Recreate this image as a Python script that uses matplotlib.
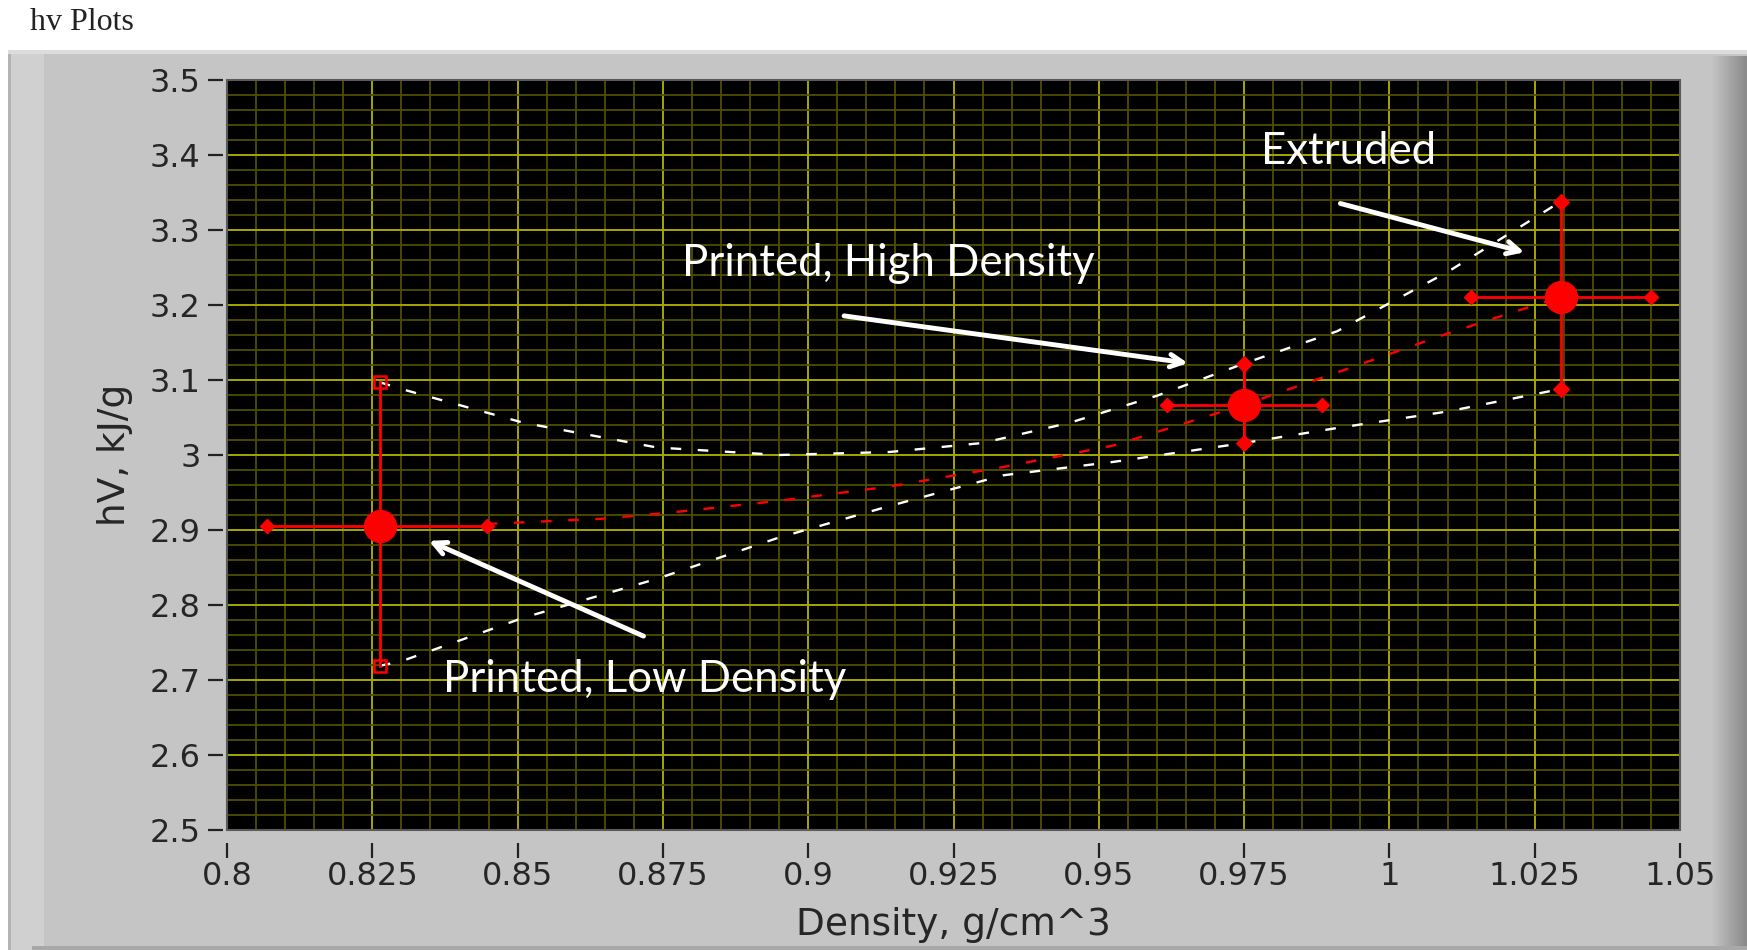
import matplotlib.pyplot as plt
from matplotlib.patches import Rectangle
from matplotlib.ticker import MultipleLocator
import numpy as np

# Measured points: density (g/cm^3) and hV (kJ/g) with their spread
labels = ['Printed, Low Density', 'Printed, High Density', 'Extruded']
dens = [0.8263, 0.9750, 1.0295]
dens_lo = [0.8069, 0.9617, 1.0141]
dens_hi = [0.8447, 0.9884, 1.0450]
hv = [2.906, 3.067, 3.211]
hv_lo = [2.719, 3.016, 3.088]
hv_hi = [3.097, 3.122, 3.338]

# Fitted trend through the centres and the two bounding curves
fit_x = [0.8447, 0.8645, 0.8760, 0.8950, 0.9140, 0.9336, 0.9527, 0.9750, 0.9910, 1.0100, 1.0295]
fit_y = [2.908, 2.915, 2.923, 2.939, 2.958, 2.984, 3.013, 3.067, 3.110, 3.162, 3.211]

up_x = [0.8263, 0.8300, 0.8510, 0.8740, 0.8950, 0.9140, 0.9300, 0.9450, 0.9600, 0.9750, 0.9910, 1.0100, 1.0295]
up_y = [3.097, 3.088, 3.043, 3.010, 3.000, 3.004, 3.016, 3.043, 3.079, 3.122, 3.165, 3.244, 3.338]

low_x = [0.8263, 0.8300, 0.8510, 0.8740, 0.8950, 0.9140, 0.9336, 0.9527, 0.9750, 0.9910, 1.0100, 1.0295]
low_y = [2.719, 2.725, 2.783, 2.835, 2.890, 2.932, 2.973, 2.991, 3.016, 3.036, 3.058, 3.088]

W, H = 1747, 950
fig = plt.figure(figsize=(W / 100, H / 100), dpi=100, facecolor='white')

# panel frame behind the graph, drawn in pixel units
bg = fig.add_axes([0, 0, 1, 1], zorder=-5)
bg.set_xlim(0, W)
bg.set_ylim(H, 0)
bg.axis('off')
bg.add_patch(Rectangle((8, 50), W - 8, H - 50, color='#c5c5c5', lw=0))
bg.add_patch(Rectangle((8, 50), 3, H - 50, color='#b4b4b4', lw=0))
bg.add_patch(Rectangle((11, 50), 33, H - 50, color='#d0d0d0', lw=0))
bg.add_patch(Rectangle((8, 50), W - 8, 4, color='#dcdcdc', lw=0))
shade = np.linspace(0.78, 0.52, 40)
for i, s in enumerate(shade):
    bg.add_patch(Rectangle((1710 + i, 56), 1, H - 56, color=(s, s, s), lw=0))
bg.add_patch(Rectangle((32, 946), W - 32, 4, color='#a8a8a8', lw=0))
bg.text(30, 22, 'hv Plots', fontsize=23, family='Liberation Serif',
        color='#222222', va='center', ha='left', weight='medium')

ax = fig.add_axes([227 / W, 1 - 830 / H, (1680 - 227) / W, (830 - 80) / H])
ax.set_facecolor('black')
ax.set_xlim(0.8, 1.05)
ax.set_ylim(2.5, 3.5)

ax.xaxis.set_major_locator(MultipleLocator(0.025))
ax.xaxis.set_minor_locator(MultipleLocator(0.005))
ax.yaxis.set_major_locator(MultipleLocator(0.1))
ax.yaxis.set_minor_locator(MultipleLocator(0.02))
ax.set_xticks([0.8, 0.825, 0.85, 0.875, 0.9, 0.925, 0.95, 0.975, 1.0, 1.025, 1.05])
ax.set_xticklabels(['0.8', '0.825', '0.85', '0.875', '0.9', '0.925', '0.95',
                    '0.975', '1', '1.025', '1.05'])
ax.set_yticks([2.5, 2.6, 2.7, 2.8, 2.9, 3.0, 3.1, 3.2, 3.3, 3.4, 3.5])
ax.set_yticklabels(['2.5', '2.6', '2.7', '2.8', '2.9', '3', '3.1', '3.2', '3.3', '3.4', '3.5'])

ax.grid(which='major', color='#a6a600', lw=1.4)
ax.grid(which='minor', color='#4e4e00', lw=1.3)
ax.set_axisbelow(True)

for s in ax.spines.values():
    s.set_visible(False)
ax.spines['left'].set_position(('outward', 3))
ax.spines['bottom'].set_position(('outward', 9))
ax.tick_params(which='major', direction='out', length=11, width=1.6, color='#222222',
               labelsize=23, labelcolor='#262626')
ax.tick_params(axis='x', pad=2)
ax.tick_params(axis='y', pad=5)
ax.tick_params(which='minor', length=0)
ax.add_patch(Rectangle((0, 0), 1, 1, transform=ax.transAxes, fill=False,
                       ec='#5a5a5a', lw=1.5, zorder=10, clip_on=False))

ax.set_xlabel('Density, g/cm^3', fontsize=27, color='#262626', labelpad=11)
ax.set_ylabel('hV, kJ/g', fontsize=27, color='#262626', labelpad=12)

# bounding curves and trend line
dash = (0, (4.5, 7))
ax.plot(up_x, up_y, color='white', lw=1.7, ls=dash, zorder=3)
ax.plot(low_x, low_y, color='white', lw=1.7, ls=dash, zorder=3)
ax.plot(fit_x, fit_y, color='#ff0000', lw=1.7, ls=dash, zorder=3)

# cross-shaped error bars around each measured point
for i in range(len(dens)):
    ax.plot([dens_lo[i], dens_hi[i]], [hv[i], hv[i]], color='#ff0000', lw=2, zorder=4,
            marker='D', ms=7)
    vm = 's' if i == 0 else 'D'
    mfc = 'none' if i == 0 else '#ff0000'
    ax.plot([dens[i], dens[i]], [hv_lo[i], hv_hi[i]], color='#ff0000', lw=2, zorder=4,
            marker=vm, ms=9 if i == 0 else 7, mfc=mfc, mec='#ff0000', mew=1.8)
    ax.plot(dens[i], hv[i], 'o', color='#ff0000', ms=23, zorder=5)

# annotations
ann = dict(fontsize=31.5, color='white', family='Lato', ha='center', va='center')
arrow = dict(arrowstyle='->,head_length=0.9,head_width=0.45', color='white', lw=3.5)
ax.annotate('', xy=(1.0237, 3.2693), xytext=(0.9911, 3.3363), arrowprops=arrow, zorder=6)
ax.text(0.9930, 3.405, labels[2], **ann, zorder=6)
ax.annotate('', xy=(0.9658, 3.122), xytext=(0.9057, 3.186), arrowprops=arrow, zorder=6)
ax.text(0.9138, 3.256, labels[1], **ann, zorder=6)
ax.annotate('', xy=(0.8343, 2.887), xytext=(0.8721, 2.757), arrowprops=arrow, zorder=6)
ax.text(0.8718, 2.701, labels[0], **ann, zorder=6)

fig.savefig('out.png', dpi=100, facecolor=fig.get_facecolor())
